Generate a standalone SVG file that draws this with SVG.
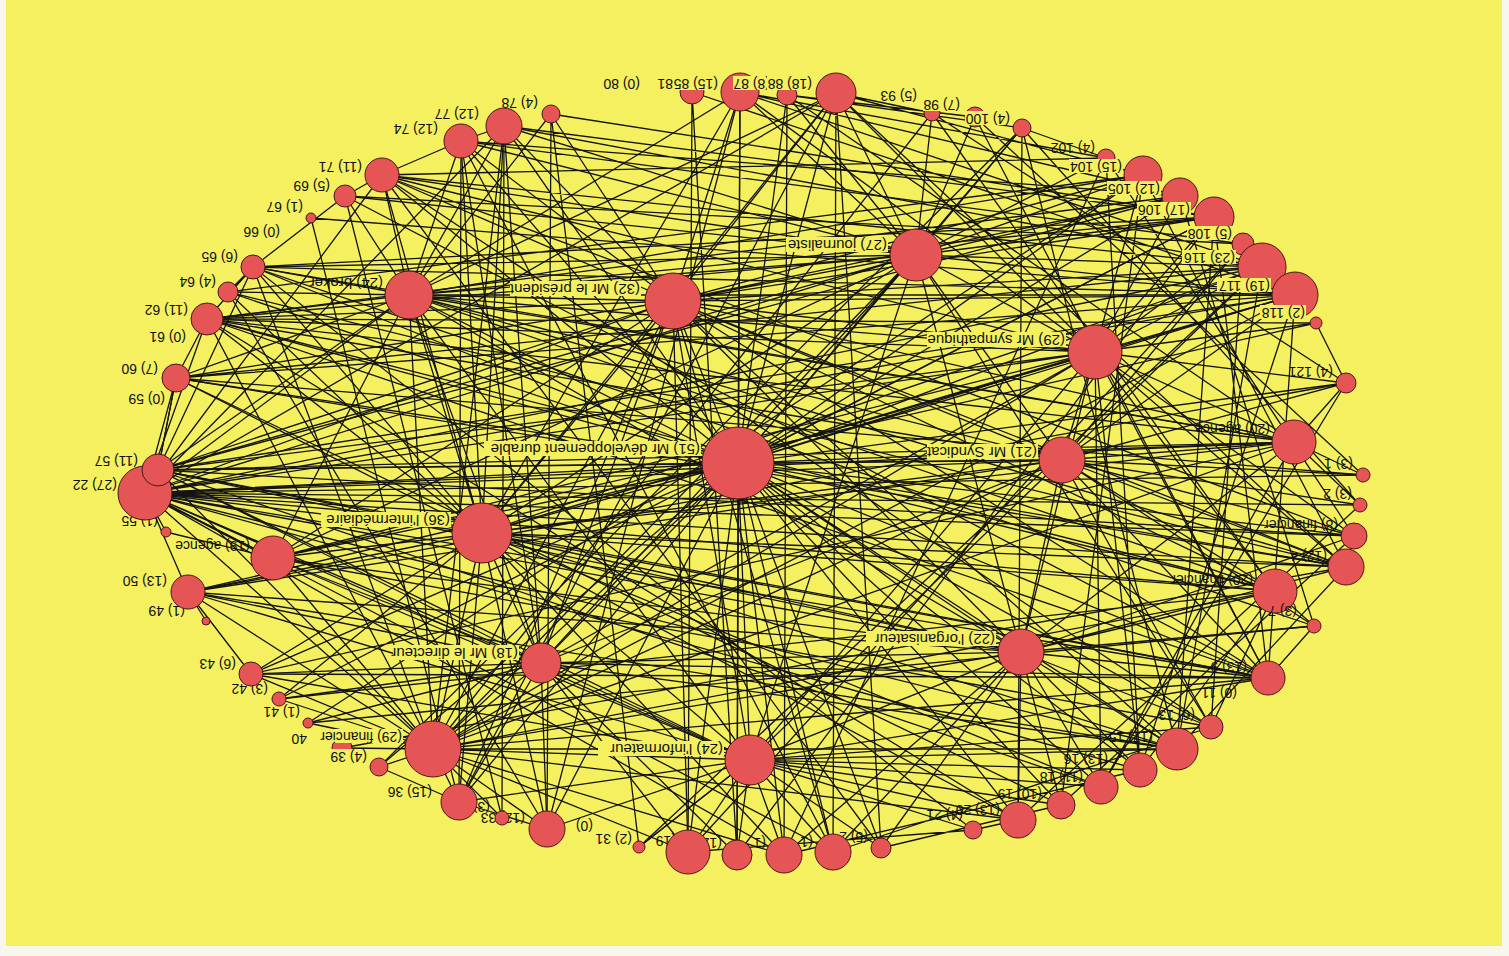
<svg xmlns="http://www.w3.org/2000/svg" width="1509" height="956" viewBox="0 0 1509 956">
<style>
.bgc{fill:#f4f060}
.bg{fill:#f4f060}
.nd{fill:#e65555;stroke:#4a1616;stroke-width:1}
.lb{font-family:"Liberation Sans",Arial,sans-serif;font-size:14px;fill:#111}
.lb2{font-family:"Liberation Sans",Arial,sans-serif;font-size:15px;fill:#111}
#edges path{stroke:#141414;stroke-width:1.3;fill:none}
</style>
<rect x="0" y="0" width="1509" height="956" fill="#f7f7ee"/>
<rect class="bgc" x="6" y="0" width="1496" height="946"/>
<g id="edges">
<path d="M738 463L673 301M738 463L916 255M738 463L1095 352M738 463L1062 460M738 463L482 533M738 463L541 663M738 463L1021 652M738 463L750 760M738 463L409 295M738 463L145 493M738 463L158 470M738 463L176 378M738 463L207 319M738 463L273 558M738 463L188 592M738 463L433 749M738 463L459 802M738 463L547 829M738 463L688 852M738 463L737 855M738 463L784 855M738 463L833 852M738 463L1018 820M738 463L1101 787M738 463L1140 770M738 463L1177 749M738 463L1268 678M738 463L1275 591M738 463L1346 567M738 463L1354 536M738 463L1294 442M738 463L1295 295M738 463L1262 267M738 463L1214 217M738 463L1180 196M738 463L1143 175M738 463L836 93M738 463L740 92M738 463L504 126M738 463L461 141M738 463L382 175M738 463L253 267M738 463L251 674M738 463L1061 805M738 463L1211 727M738 463L1346 383M738 463L1022 128M738 463L787 95M738 463L228 292M738 463L379 767M738 463L881 848"/>
<path d="M482 533L145 493M482 533L158 470M482 533L176 378M482 533L207 319M482 533L228 292M482 533L253 267M482 533L382 175M482 533L461 141M482 533L504 126M482 533L409 295M482 533L673 301M482 533L916 255M482 533L1095 352M482 533L1062 460M482 533L1021 652M482 533L750 760M482 533L541 663M482 533L433 749M482 533L459 802M482 533L547 829M482 533L273 558M482 533L188 592M482 533L251 674M482 533L279 699M482 533L1275 591M482 533L1346 567M482 533L1294 442M482 533L1295 295M482 533L1262 267M482 533L1268 678M482 533L1177 749M482 533L1101 787M482 533L836 93M482 533L740 92M482 533L1018 820M482 533L784 855"/>
<path d="M673 301L409 295M673 301L916 255M673 301L1095 352M673 301L1062 460M673 301L750 760M673 301L1021 652M673 301L541 663M673 301L433 749M673 301L145 493M673 301L158 470M673 301L207 319M673 301L382 175M673 301L461 141M673 301L504 126M673 301L551 114M673 301L740 92M673 301L836 93M673 301L1143 175M673 301L1180 196M673 301L1214 217M673 301L1262 267M673 301L1295 295M673 301L1294 442M673 301L1275 591M673 301L1346 567M673 301L1268 678M673 301L1177 749M673 301L688 852M673 301L833 852M673 301L459 802M673 301L273 558M673 301L176 378"/>
<path d="M1095 352L145 493M1095 352L158 470M1095 352L409 295M1095 352L916 255M1095 352L1062 460M1095 352L1021 652M1095 352L750 760M1095 352L541 663M1095 352L433 749M1095 352L1143 175M1095 352L1180 196M1095 352L1214 217M1095 352L1243 244M1095 352L1262 267M1095 352L1295 295M1095 352L1316 323M1095 352L1346 383M1095 352L1294 442M1095 352L1354 536M1095 352L1346 567M1095 352L1275 591M1095 352L1268 678M1095 352L1140 770M1095 352L1101 787M1095 352L836 93M1095 352L740 92M1095 352L382 175M1095 352L273 558M1095 352L207 319"/>
<path d="M433 749L379 767M433 749L342 748M433 749L308 723M433 749L279 699M433 749L251 674M433 749L459 802M433 749L547 829M433 749L502 818M433 749L273 558M433 749L188 592M433 749L145 493M433 749L158 470M433 749L409 295M433 749L541 663M433 749L750 760M433 749L1021 652M433 749L1062 460M433 749L916 255M433 749L207 319M433 749L253 267M433 749L504 126M433 749L688 852M433 749L784 855M433 749L1018 820M433 749L1177 749M433 749L1268 678M433 749L1275 591M433 749L1294 442M433 749L1295 295"/>
<path d="M916 255L836 93M916 255L740 92M916 255L787 95M916 255L932 113M916 255L975 117M916 255L1022 128M916 255L1106 158M916 255L1143 175M916 255L1180 196M916 255L1214 217M916 255L1262 267M916 255L1295 295M916 255L409 295M916 255L1062 460M916 255L1021 652M916 255L750 760M916 255L541 663M916 255L207 319M916 255L253 267M916 255L345 196M916 255L382 175M916 255L461 141M916 255L504 126M916 255L145 493M916 255L158 470M916 255L273 558M916 255L1211 727"/>
<path d="M145 493L409 295M145 493L1062 460M145 493L1021 652M145 493L750 760M145 493L541 663M145 493L207 319M145 493L176 378M145 493L188 592M145 493L273 558M145 493L1295 295M145 493L1262 267M145 493L1294 442M145 493L1275 591M145 493L1346 567M145 493L1354 536M145 493L1268 678M145 493L1177 749M145 493L833 852M145 493L784 855M145 493L836 93M145 493L504 126M145 493L382 175M145 493L166 532"/>
<path d="M158 470L409 295M158 470L1062 460M158 470L1021 652M158 470L750 760M158 470L541 663M158 470L176 378M158 470L1294 442M158 470L1295 295M158 470L1180 196M158 470L1268 678M158 470L253 267"/>
<path d="M409 295L207 319M409 295L228 292M409 295L253 267M409 295L345 196M409 295L382 175M409 295L461 141M409 295L504 126M409 295L551 114M409 295L740 92M409 295L836 93M409 295L1143 175M409 295L1214 217M409 295L1062 460M409 295L1021 652M409 295L750 760M409 295L541 663M409 295L273 558M409 295L176 378M409 295L1295 295M409 295L1294 442M409 295L1275 591"/>
<path d="M750 760L688 852M750 760L737 855M750 760L784 855M750 760L833 852M750 760L881 848M750 760L973 830M750 760L1018 820M750 760L1061 805M750 760L1101 787M750 760L1140 770M750 760L1177 749M750 760L1211 727M750 760L1268 678M750 760L459 802M750 760L547 829M750 760L639 847M750 760L541 663M750 760L1021 652M750 760L1062 460M750 760L251 674M750 760L188 592M750 760L273 558"/>
<path d="M1021 652L1268 678M1021 652L1211 727M1021 652L1177 749M1021 652L1140 770M1021 652L1101 787M1021 652L1061 805M1021 652L1018 820M1021 652L1314 626M1021 652L1275 591M1021 652L1346 567M1021 652L1354 536M1021 652L1294 442M1021 652L1062 460M1021 652L541 663M1021 652L833 852M1021 652L784 855M1021 652L881 848M1021 652L188 592M1021 652L273 558"/>
<path d="M1062 460L1294 442M1062 460L1346 383M1062 460L1363 475M1062 460L1360 505M1062 460L1354 536M1062 460L1346 567M1062 460L1275 591M1062 460L1314 626M1062 460L1268 678M1062 460L1211 727M1062 460L1295 295M1062 460L1262 267M1062 460L1243 244M1062 460L541 663M1062 460L188 592M1062 460L207 319"/>
<path d="M541 663L251 674M541 663L279 699M541 663L308 723M541 663L547 829M541 663L459 802M541 663L688 852M541 663L737 855M541 663L461 141M541 663L504 126M541 663L273 558M541 663L188 592M541 663L1268 678M541 663L1177 749"/>
<path d="M551 114L547 829M740 92L737 855M836 93L881 848M461 141L459 802M504 126L502 818M1022 128L1018 820M1143 175L1061 805M1214 217L1177 749M1295 295L1268 678M1294 442L1363 475M1294 442L1360 505M1294 442L1346 383M1346 383L1316 323M1346 567L1354 536M1275 591L1314 626M1268 678L1314 626M1211 727L1275 591M1177 749L1346 567M1140 770L1275 591M1101 787L1294 442M932 113L836 93M975 117L787 95M1022 128L787 95M1106 158L740 92M1106 158L1022 128M1143 175L836 93M1180 196L740 92M1214 217L504 126M1243 244L461 141M1262 267L382 175M1295 295L253 267M1316 323L207 319M176 378L1363 475M207 319L1275 591M228 292L1346 567M253 267L1294 442M345 196L1268 678M382 175L1211 727M311 218L1295 295M251 674L1268 678M279 699L1275 591M308 723L1314 626M342 748L1346 567M379 767L459 802M188 592L251 674M273 558L166 532M273 558L145 493M206 621L188 592M158 470L176 378M176 378L207 319M207 319L253 267M228 292L253 267M253 267L345 196M345 196L382 175M382 175L461 141M461 141L504 126M639 847L750 760M547 829L459 802M688 852L973 830M833 852L1211 727M784 855L1140 770M881 848L1061 805M973 830L1018 820M1018 820L1360 505M1061 805L1354 536M1101 787L1346 383M1140 770L1295 295M1177 749L1262 267M1211 727L1243 244M1268 678L1214 217M1314 626L1180 196M1346 567L1143 175M1354 536L1106 158M1360 505L1022 128M1363 475L975 117M1346 383L932 113M459 802L311 218M502 818L345 196M547 829L228 292M639 847L551 114M688 852L692 92M737 855L692 92M784 855L787 95M833 852L836 93"/>
<path d="M176 378L1295 295M176 378L1262 267M176 378L1346 567M207 319L1294 442M207 319L1180 196M228 292L1143 175M253 267L1214 217M345 196L1243 244M382 175L1106 158M461 141L1180 196M504 126L1262 267M551 114L1214 217M692 92L1295 295M740 92L1262 267M787 95L1294 442M836 93L1346 567M932 113L1275 591M975 117L1268 678M1022 128L1177 749M1106 158L1140 770M145 493L1363 475M145 493L1360 505M158 470L1354 536M188 592L1346 383M273 558L1316 323M251 674L1294 442M279 699L1214 217M308 723L1143 175M379 767L1022 128M433 749L932 113M459 802L836 93M547 829L740 92M639 847L1262 267M688 852L1243 244M737 855L1214 217M784 855L1106 158M833 852L461 141M881 848L382 175M973 830L253 267M1018 820L207 319M1061 805L176 378M1101 787L158 470M1140 770L145 493M1177 749L188 592M1211 727L273 558M1268 678L207 319M1314 626L253 267M1346 567L409 295M1354 536L382 175"/>
</g>
<g id="n80"><text class="lb" x="640" y="79" transform="rotate(180 640 79)">(0) 80</text></g>
<g id="n81"><circle class="nd" cx="692" cy="92" r="12"/><text class="lb" x="673" y="79" transform="rotate(180 673 79)">81</text></g>
<g id="n85"><circle class="nd" cx="740" cy="92" r="19"/><rect class="bg" x="673" y="76" width="46" height="14"/><text class="lb" x="718" y="79" transform="rotate(180 718 79)">(15) 85</text></g>
<g id="n87"><circle class="nd" cx="787" cy="95" r="10"/><rect class="bg" x="733" y="76" width="38" height="14"/><text class="lb" x="770" y="79" transform="rotate(180 770 79)">(8) 87</text></g>
<g id="n88"><circle class="nd" cx="836" cy="93" r="20"/><rect class="bg" x="767" y="76" width="46" height="14"/><text class="lb" x="812" y="79" transform="rotate(180 812 79)">(18) 88</text></g>
<g id="n93"><circle class="nd" cx="932" cy="113" r="8"/><text class="lb" x="917" y="91" transform="rotate(180 917 91)">(5) 93</text></g>
<g id="n98"><circle class="nd" cx="975" cy="117" r="10"/><rect class="bg" x="923" y="97" width="38" height="14"/><text class="lb" x="960" y="100" transform="rotate(180 960 100)">(7) 98</text></g>
<g id="n100"><circle class="nd" cx="1022" cy="128" r="9"/><rect class="bg" x="965" y="111" width="46" height="14"/><text class="lb" x="1010" y="114" transform="rotate(180 1010 114)">(4) 100</text></g>
<g id="n102"><circle class="nd" cx="1106" cy="158" r="9"/><text class="lb" x="1095" y="143" transform="rotate(180 1095 143)">(4) 102</text></g>
<g id="n104"><circle class="nd" cx="1143" cy="175" r="19"/><rect class="bg" x="1069" y="159" width="54" height="14"/><text class="lb" x="1122" y="162" transform="rotate(180 1122 162)">(15) 104</text></g>
<g id="n105"><circle class="nd" cx="1180" cy="196" r="18"/><rect class="bg" x="1107" y="181" width="54" height="14"/><text class="lb" x="1160" y="184" transform="rotate(180 1160 184)">(12) 105</text></g>
<g id="n106"><circle class="nd" cx="1214" cy="217" r="20"/><rect class="bg" x="1137" y="202" width="54" height="14"/><text class="lb" x="1190" y="205" transform="rotate(180 1190 205)">(17) 106</text></g>
<g id="n108"><circle class="nd" cx="1243" cy="244" r="11"/><rect class="bg" x="1187" y="226" width="46" height="14"/><text class="lb" x="1232" y="229" transform="rotate(180 1232 229)">(5) 108</text></g>
<g id="n116"><circle class="nd" cx="1262" cy="267" r="24"/><rect class="bg" x="1182" y="250" width="54" height="14"/><text class="lb" x="1235" y="253" transform="rotate(180 1235 253)">(23) 116</text></g>
<g id="n117"><circle class="nd" cx="1295" cy="295" r="23"/><rect class="bg" x="1217" y="278" width="54" height="14"/><text class="lb" x="1270" y="281" transform="rotate(180 1270 281)">(19) 117</text></g>
<g id="n118"><circle class="nd" cx="1316" cy="323" r="6"/><rect class="bg" x="1260" y="305" width="46" height="14"/><text class="lb" x="1305" y="308" transform="rotate(180 1305 308)">(2) 118</text></g>
<g id="n121"><circle class="nd" cx="1346" cy="383" r="10"/><text class="lb" x="1333" y="367" transform="rotate(180 1333 367)">(4) 121</text></g>
<g id="a20"><circle class="nd" cx="1294" cy="442" r="22"/><text class="lb" x="1270" y="424" transform="rotate(180 1270 424)">(20) agence</text></g>
<g id="n1"><circle class="nd" cx="1363" cy="475" r="7"/><text class="lb" x="1353" y="459" transform="rotate(180 1353 459)">(3) 1</text></g>
<g id="n2"><circle class="nd" cx="1360" cy="505" r="7"/><text class="lb" x="1352" y="489" transform="rotate(180 1352 489)">(3) 2</text></g>
<g id="f8"><circle class="nd" cx="1354" cy="536" r="13"/><text class="lb" x="1338" y="520" transform="rotate(180 1338 520)">(8) financier</text></g>
<g id="n4"><circle class="nd" cx="1346" cy="567" r="18"/><text class="lb" x="1327" y="551" transform="rotate(180 1327 551)">(12) 4</text></g>
<g id="f20"><circle class="nd" cx="1275" cy="591" r="22"/><text class="lb" x="1253" y="575" transform="rotate(180 1253 575)">(20) financier</text></g>
<g id="n7"><circle class="nd" cx="1314" cy="626" r="7"/><text class="lb" x="1297" y="606" transform="rotate(180 1297 606)">(3) 7</text></g>
<g id="n9"><circle class="nd" cx="1268" cy="678" r="17"/><text class="lb" x="1247" y="662" transform="rotate(180 1247 662)">(13) 9</text></g>
<g id="n11"><text class="lb" x="1237" y="688" transform="rotate(180 1237 688)">(0) 11</text></g>
<g id="n13"><circle class="nd" cx="1211" cy="727" r="12"/><text class="lb" x="1195" y="710" transform="rotate(180 1195 710)">(6) 13</text></g>
<g id="n15"><circle class="nd" cx="1177" cy="749" r="21"/><text class="lb" x="1153" y="732" transform="rotate(180 1153 732)">(17) 15</text></g>
<g id="n16"><circle class="nd" cx="1140" cy="770" r="17"/><text class="lb" x="1108" y="754" transform="rotate(180 1108 754)">(13) 16</text></g>
<g id="n18"><circle class="nd" cx="1101" cy="787" r="17"/><text class="lb" x="1083" y="772" transform="rotate(180 1083 772)">(11) 18</text></g>
<g id="n19"><circle class="nd" cx="1061" cy="805" r="14"/><text class="lb" x="1042" y="789" transform="rotate(180 1042 789)">(10) 19</text></g>
<g id="n20"><circle class="nd" cx="1018" cy="820" r="18"/><text class="lb" x="1000" y="805" transform="rotate(180 1000 805)">(13) 20</text></g>
<g id="n21"><circle class="nd" cx="973" cy="830" r="9"/><text class="lb" x="963" y="810" transform="rotate(180 963 810)">(4) 21</text></g>
<g id="n25"><circle class="nd" cx="881" cy="848" r="10"/><text class="lb" x="868" y="832" transform="rotate(180 868 832)">(5) 2</text></g>
<g id="nb1"><text class="lb" x="813" y="837" transform="rotate(180 813 837)">(1</text><circle class="nd" cx="833" cy="852" r="18"/></g>
<g id="nb2"><text class="lb" x="766" y="838" transform="rotate(180 766 838)">(1</text><circle class="nd" cx="784" cy="855" r="18"/></g>
<g id="nb3"><text class="lb" x="722" y="838" transform="rotate(180 722 838)">(12</text><circle class="nd" cx="737" cy="855" r="15"/></g>
<g id="nb4"><text class="lb" x="676" y="836" transform="rotate(180 676 836)">(19</text><circle class="nd" cx="688" cy="852" r="22"/></g>
<g id="n31"><circle class="nd" cx="639" cy="847" r="6"/><rect class="bg" x="595" y="831" width="38" height="14"/><text class="lb" x="632" y="834" transform="rotate(180 632 834)">(2) 31</text></g>
<g id="n32"><text class="lb" x="593" y="821" transform="rotate(180 593 821)">(0)</text></g>
<g id="n33"><circle class="nd" cx="547" cy="829" r="18"/><text class="lb" x="525" y="813" transform="rotate(180 525 813)">(12) 33</text></g>
<g id="n34"><circle class="nd" cx="502" cy="818" r="7"/><text class="lb" x="490" y="802" transform="rotate(180 490 802)">(3)</text></g>
<g id="n36"><circle class="nd" cx="459" cy="802" r="18"/><text class="lb" x="432" y="787" transform="rotate(180 432 787)">(15) 36</text></g>
<g id="n40"><circle class="nd" cx="342" cy="748" r="10"/><text class="lb" x="307" y="734" transform="rotate(180 307 734)">40</text></g>
<g id="n39"><circle class="nd" cx="379" cy="767" r="9"/><rect class="bg" x="330" y="749" width="38" height="14"/><text class="lb" x="367" y="752" transform="rotate(180 367 752)">(4) 39</text></g>
<g id="f29"><circle class="nd" cx="433" cy="749" r="28"/><rect class="bg" x="312" y="729" width="91" height="14"/><text class="lb" x="402" y="732" transform="rotate(180 402 732)">(29) financier</text></g>
<g id="n41"><circle class="nd" cx="308" cy="723" r="5"/><text class="lb" x="300" y="707" transform="rotate(180 300 707)">(1) 41</text></g>
<g id="n42"><circle class="nd" cx="279" cy="699" r="7"/><text class="lb" x="268" y="684" transform="rotate(180 268 684)">(3) 42</text></g>
<g id="n43"><circle class="nd" cx="251" cy="674" r="12"/><text class="lb" x="236" y="659" transform="rotate(180 236 659)">(6) 43</text></g>
<g id="n49"><circle class="nd" cx="206" cy="621" r="4"/><text class="lb" x="185" y="606" transform="rotate(180 185 606)">(1) 49</text></g>
<g id="n50"><circle class="nd" cx="188" cy="592" r="17"/><text class="lb" x="167" y="576" transform="rotate(180 167 576)">(13) 50</text></g>
<g id="ag19"><circle class="nd" cx="273" cy="558" r="22"/><text class="lb" x="250" y="541" transform="rotate(180 250 541)">(19) agence</text></g>
<g id="n55"><circle class="nd" cx="166" cy="532" r="5"/><text class="lb" x="158" y="516" transform="rotate(180 158 516)">(1) 55</text></g>
<g id="n22"><circle class="nd" cx="145" cy="493" r="27"/><text class="lb" x="117" y="480" transform="rotate(180 117 480)">(27) 22</text></g>
<g id="n57"><circle class="nd" cx="158" cy="470" r="16"/><text class="lb" x="138" y="456" transform="rotate(180 138 456)">(11) 57</text></g>
<g id="n59"><text class="lb" x="165" y="394" transform="rotate(180 165 394)">(0) 59</text></g>
<g id="n60"><circle class="nd" cx="176" cy="378" r="14"/><text class="lb" x="158" y="364" transform="rotate(180 158 364)">(7) 60</text></g>
<g id="n61"><text class="lb" x="186" y="332" transform="rotate(180 186 332)">(0) 61</text></g>
<g id="n62"><circle class="nd" cx="207" cy="319" r="16"/><text class="lb" x="188" y="305" transform="rotate(180 188 305)">(11) 62</text></g>
<g id="n64"><circle class="nd" cx="228" cy="292" r="10"/><text class="lb" x="216" y="277" transform="rotate(180 216 277)">(4) 64</text></g>
<g id="n65"><circle class="nd" cx="253" cy="267" r="12"/><text class="lb" x="238" y="252" transform="rotate(180 238 252)">(6) 65</text></g>
<g id="n66"><text class="lb" x="280" y="227" transform="rotate(180 280 227)">(0) 66</text></g>
<g id="n67"><circle class="nd" cx="311" cy="218" r="5"/><text class="lb" x="303" y="202" transform="rotate(180 303 202)">(1) 67</text></g>
<g id="n69"><circle class="nd" cx="345" cy="196" r="11"/><text class="lb" x="330" y="181" transform="rotate(180 330 181)">(5) 69</text></g>
<g id="n71"><circle class="nd" cx="382" cy="175" r="17"/><text class="lb" x="362" y="162" transform="rotate(180 362 162)">(11) 71</text></g>
<g id="n74"><circle class="nd" cx="461" cy="141" r="17"/><text class="lb" x="438" y="124" transform="rotate(180 438 124)">(12) 74</text></g>
<g id="n77"><circle class="nd" cx="504" cy="126" r="18"/><text class="lb" x="479" y="109" transform="rotate(180 479 109)">(12) 77</text></g>
<g id="n78"><circle class="nd" cx="551" cy="114" r="9"/><text class="lb" x="538" y="98" transform="rotate(180 538 98)">(4) 78</text></g>
<g id="broker"><circle class="nd" cx="409" cy="295" r="24"/><text class="lb2" x="383" y="278" transform="rotate(180 383 278)">(24) broker</text></g>
<g id="pres"><circle class="nd" cx="673" cy="301" r="28"/><rect class="bg" x="510" y="281" width="131" height="15"/><text class="lb2" x="640" y="284" transform="rotate(180 640 284)">(32) Mr le président</text></g>
<g id="journ"><circle class="nd" cx="916" cy="255" r="26"/><rect class="bg" x="786" y="237" width="102" height="15"/><text class="lb2" x="887" y="240" transform="rotate(180 887 240)">(27) journaliste</text></g>
<g id="symp"><circle class="nd" cx="1095" cy="352" r="27"/><rect class="bg" x="927" y="332" width="139" height="15"/><text class="lb2" x="1065" y="335" transform="rotate(180 1065 335)">(29) Mr sympathique</text></g>
<g id="dd"><circle class="nd" cx="738" cy="463" r="36"/><rect class="bg" x="484" y="441" width="217" height="15"/><text class="lb2" x="700" y="444" transform="rotate(180 700 444)">(51) Mr développement durable</text></g>
<g id="synd"><circle class="nd" cx="1062" cy="460" r="23"/><rect class="bg" x="927" y="444" width="111" height="15"/><text class="lb2" x="1037" y="447" transform="rotate(180 1037 447)">(21) Mr Syndicat</text></g>
<g id="inter"><circle class="nd" cx="482" cy="533" r="30"/><rect class="bg" x="321" y="512" width="130" height="15"/><text class="lb2" x="450" y="515" transform="rotate(180 450 515)">(36) l'intermédiaire</text></g>
<g id="dir"><circle class="nd" cx="541" cy="663" r="20"/><rect class="bg" x="393" y="645" width="126" height="15"/><text class="lb2" x="518" y="648" transform="rotate(180 518 648)">(18) Mr le directeur</text></g>
<g id="org"><circle class="nd" cx="1021" cy="652" r="23"/><rect class="bg" x="866" y="631" width="130" height="15"/><text class="lb2" x="995" y="634" transform="rotate(180 995 634)">(22) l'organisateur</text></g>
<g id="info"><circle class="nd" cx="750" cy="760" r="25"/><rect class="bg" x="598" y="741" width="126" height="15"/><text class="lb2" x="723" y="744" transform="rotate(180 723 744)">(24) l'informateur</text></g>
</svg>
